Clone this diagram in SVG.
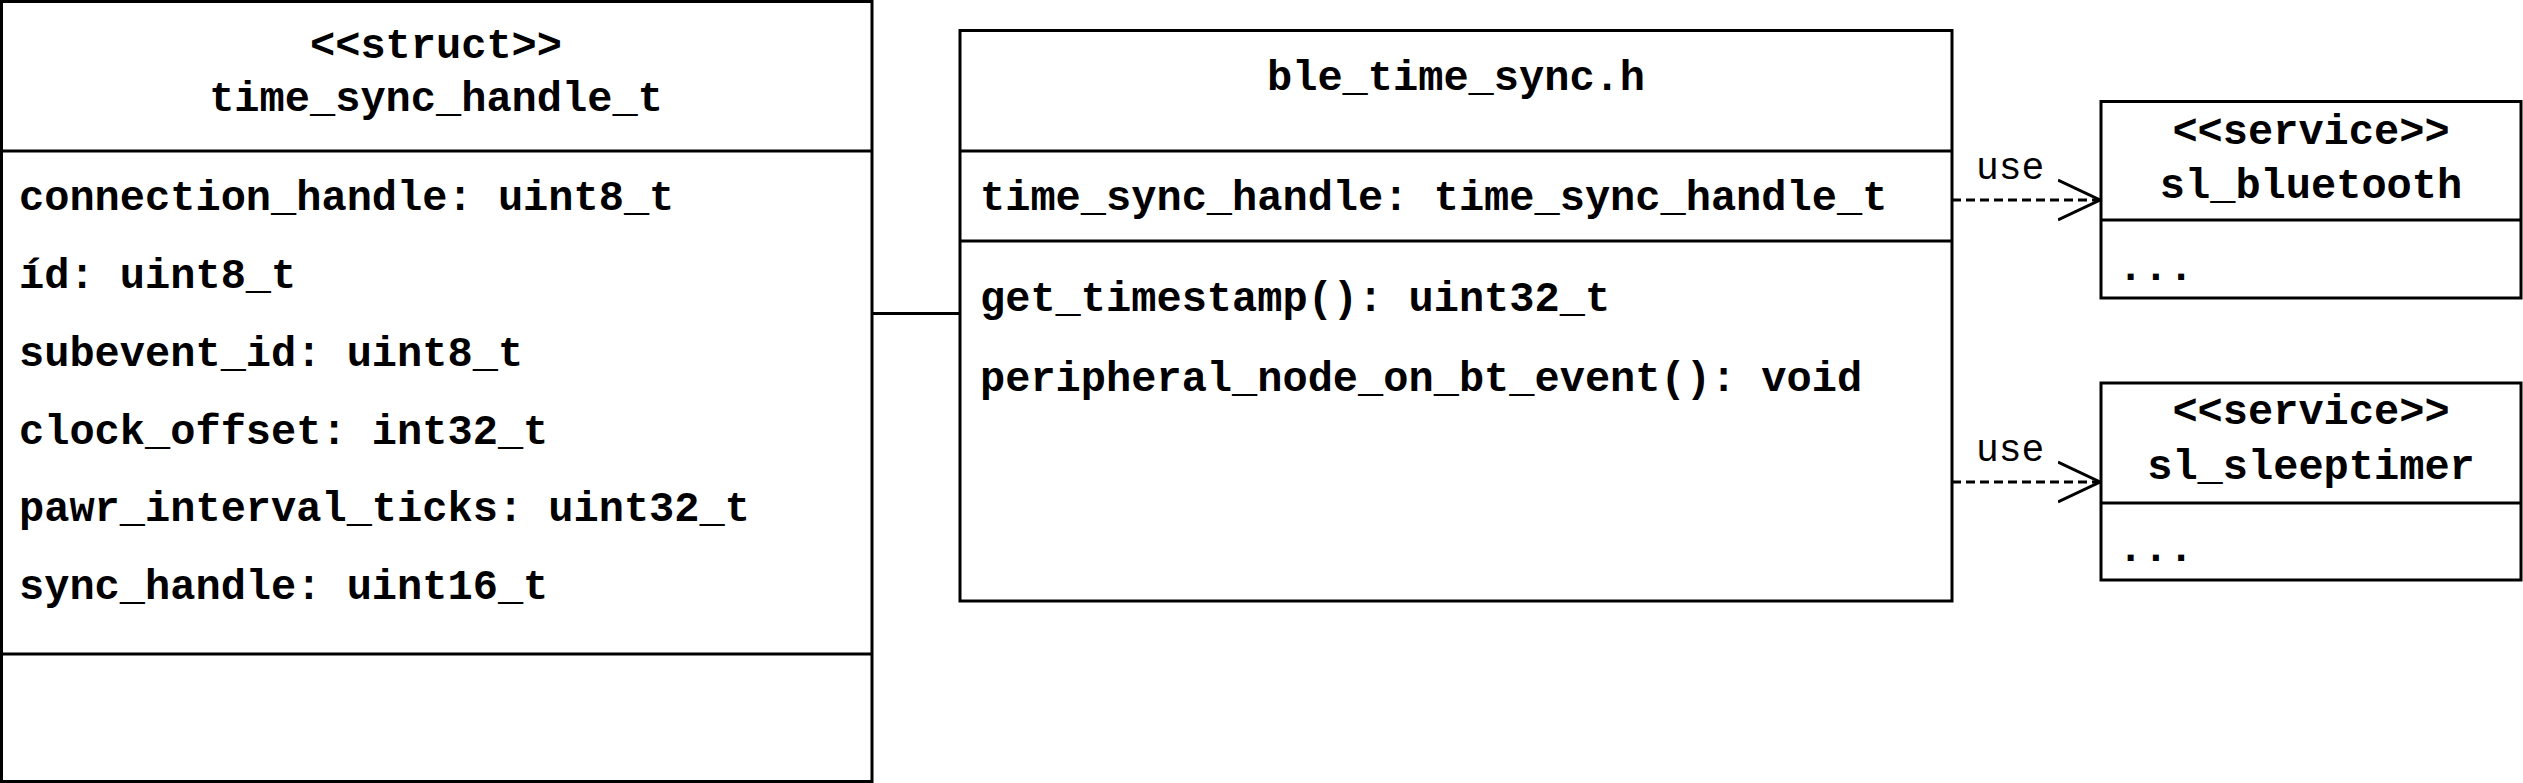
<svg xmlns="http://www.w3.org/2000/svg" width="2523" height="783" viewBox="0 0 2523 783">
<style>
.box{fill:#fff;stroke:#000;stroke-width:3}
.div{stroke:#000;stroke-width:3}
.t{font-family:"Liberation Mono","Courier New",monospace;font-size:42px;font-weight:bold;fill:#000}
.c{text-anchor:middle}
.lbl{font-family:"Liberation Mono","Courier New",monospace;font-size:38px;fill:#000}
.edge{stroke:#000;stroke-width:3;fill:none}
.dash{stroke-dasharray:9 5}
</style>
<defs>
<marker id="open" viewBox="0 0 44 44" refX="42" refY="22" markerWidth="44" markerHeight="44" markerUnits="userSpaceOnUse" orient="auto">
<path d="M0,2 L42,22 L0,42" fill="none" stroke="#000" stroke-width="3"/>
</marker>
</defs>
<g id="connectors">
<line class="edge" x1="872" y1="313.5" x2="960" y2="313.5"/>
<line class="edge dash" x1="1952" y1="200" x2="2100" y2="200" marker-end="url(#open)"/>
<text class="lbl" x="1976" y="179">use</text>
<line class="edge dash" x1="1952" y1="482" x2="2100" y2="482" marker-end="url(#open)"/>
<text class="lbl" x="1976" y="461">use</text>
</g>
<g id="time_sync_handle_t">
<rect class="box" x="1.5" y="1.5" width="870.5" height="780"/>
<line class="div" x1="1.5" y1="151" x2="872" y2="151"/>
<line class="div" x1="1.5" y1="654" x2="872" y2="654"/>
<text class="t c" x="436" y="58">&lt;&lt;struct&gt;&gt;</text>
<text class="t c" x="436" y="111">time_sync_handle_t</text>
<text class="t" x="19" y="210">connection_handle: uint8_t</text>
<text class="t" x="19" y="288">íd: uint8_t</text>
<text class="t" x="19" y="366">subevent_id: uint8_t</text>
<text class="t" x="19" y="444">clock_offset: int32_t</text>
<text class="t" x="19" y="521">pawr_interval_ticks: uint32_t</text>
<text class="t" x="19" y="599">sync_handle: uint16_t</text>
</g>
<g id="ble_time_sync">
<rect class="box" x="960" y="30.5" width="992" height="570.5"/>
<line class="div" x1="960" y1="151" x2="1952" y2="151"/>
<line class="div" x1="960" y1="241" x2="1952" y2="241"/>
<text class="t c" x="1456" y="90">ble_time_sync.h</text>
<text class="t" x="980" y="210">time_sync_handle: time_sync_handle_t</text>
<text class="t" x="980" y="311">get_timestamp(): uint32_t</text>
<text class="t" x="980" y="391">peripheral_node_on_bt_event(): void</text>
</g>
<g id="sl_bluetooth">
<rect class="box" x="2101" y="101.5" width="420" height="196.5"/>
<line class="div" x1="2101" y1="220" x2="2521" y2="220"/>
<text class="t c" x="2311" y="144">&lt;&lt;service&gt;&gt;</text>
<text class="t c" x="2311" y="198">sl_bluetooth</text>
<text class="t" x="2118" y="280">...</text>
</g>
<g id="sl_sleeptimer">
<rect class="box" x="2101" y="383" width="420" height="197"/>
<line class="div" x1="2101" y1="503" x2="2521" y2="503"/>
<text class="t c" x="2311" y="424">&lt;&lt;service&gt;&gt;</text>
<text class="t c" x="2311" y="479">sl_sleeptimer</text>
<text class="t" x="2118" y="561">...</text>
</g>
</svg>
